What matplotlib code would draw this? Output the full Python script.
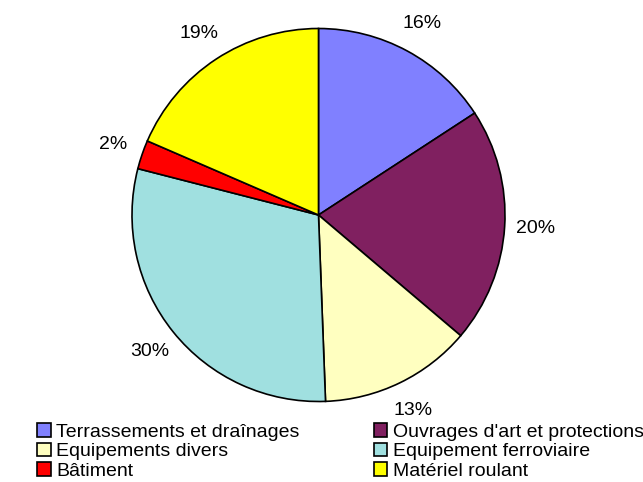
import matplotlib.pyplot as plt

plt.rcParams['font.family'] = ['Liberation Sans', 'DejaVu Sans']

labels = ['Terrassements et draînages', "Ouvrages d'art et protections",
          'Equipements divers', 'Equipement ferroviaire',
          'Bâtiment', 'Matériel roulant']
shares = [15.8, 20.4, 13.2, 29.6, 2.5, 18.5]
pct_text = ['16%', '20%', '13%', '30%', '2%', '19%']
colors = ['#8080FF', '#802060', '#FFFFC0', '#A0E0E0', '#FF0000', '#FFFF00']

W, H = 643, 482
fig = plt.figure(figsize=(W / 100, H / 100), dpi=100)

# pie centre and radius in pixels
cx, cy, r = 318.5, 215, 186.5
ax = fig.add_axes([(cx - r) / W, (H - cy - r) / H, 2 * r / W, 2 * r / H])

wedges, texts, autotexts = ax.pie(
    shares, colors=colors, startangle=90, counterclock=False,
    autopct='%.0f%%', pctdistance=1.165,
    wedgeprops=dict(edgecolor='black', linewidth=1.2),
    textprops=dict(fontsize=14, color='black'))
for t, s in zip(autotexts, pct_text):
    t.set_text(s)
ax.set_xlim(-1, 1)
ax.set_ylim(-1, 1)

# legend filled row by row: matplotlib fills columns, so reorder
order = [0, 2, 4, 1, 3, 5]
fig.legend([wedges[i] for i in order], [labels[i] for i in order],
           ncol=2, loc='upper left',
           bbox_to_anchor=(37 / W, 1 - 423 / H),
           frameon=False, fontsize=14, borderpad=0, borderaxespad=0,
           handlelength=0.7, handleheight=0.7, handletextpad=0.3,
           labelspacing=0.1, columnspacing=3.8)

fig.savefig('out.png', dpi=100)
